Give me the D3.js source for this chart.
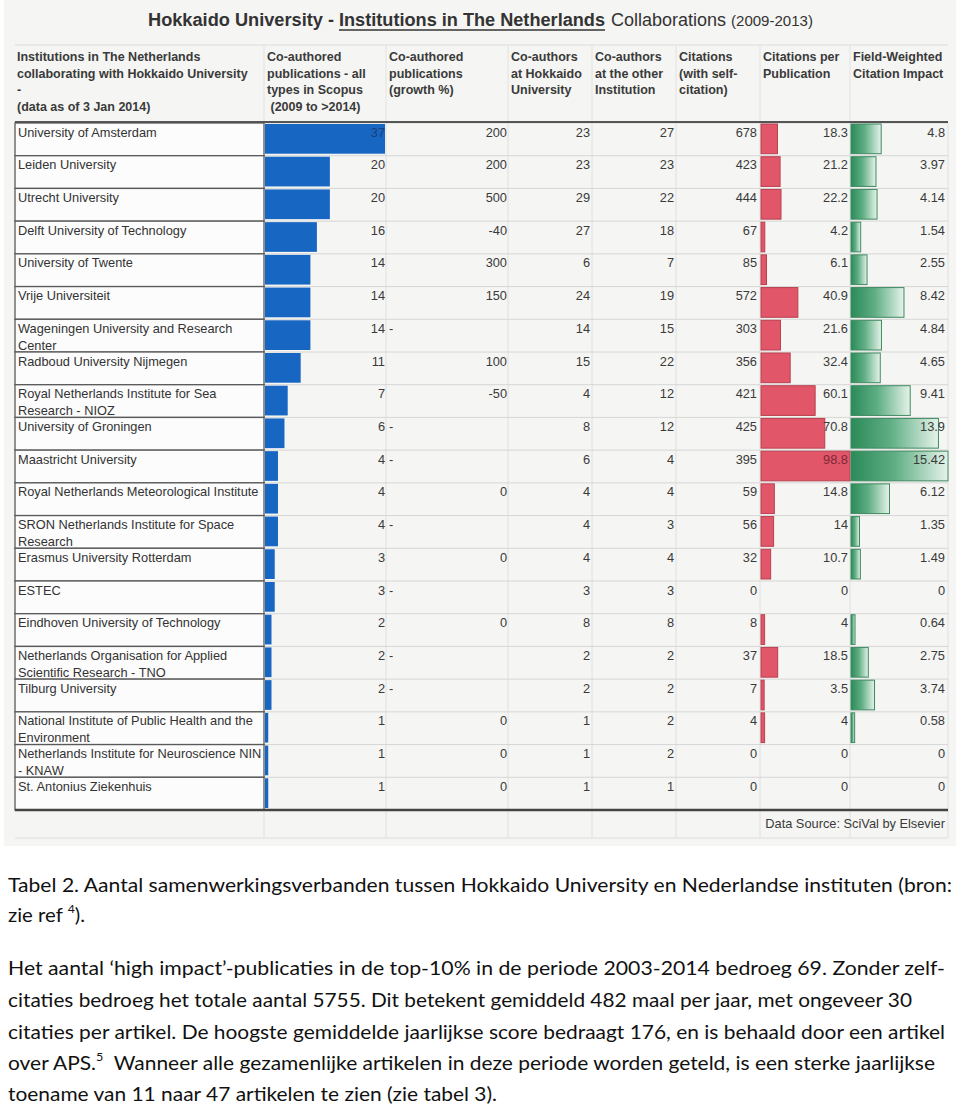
<!DOCTYPE html>
<html><head><meta charset="utf-8">
<script src="https://cdn.jsdelivr.net/npm/d3@7"></script>
<style>
html,body{margin:0;padding:0;background:#fff;}
svg{display:block;}
</style></head>
<body>
<svg id="chart" width="960" height="1108"></svg>
<script>
// ---------- DATA ----------
const institutions = [
  ["University of Amsterdam"],
  ["Leiden University"],
  ["Utrecht University"],
  ["Delft University of Technology"],
  ["University of Twente"],
  ["Vrije Universiteit"],
  ["Wageningen University and Research", "Center"],
  ["Radboud University Nijmegen"],
  ["Royal Netherlands Institute for Sea", "Research - NIOZ"],
  ["University of Groningen"],
  ["Maastricht University"],
  ["Royal Netherlands Meteorological Institute"],
  ["SRON Netherlands Institute for Space", "Research"],
  ["Erasmus University Rotterdam"],
  ["ESTEC"],
  ["Eindhoven University of Technology"],
  ["Netherlands Organisation for Applied", "Scientific Research - TNO"],
  ["Tilburg University"],
  ["National Institute of Public Health and the", "Environment"],
  ["Netherlands Institute for Neuroscience NIN", "- KNAW"],
  ["St. Antonius Ziekenhuis"]
];
const publications = [37,20,20,16,14,14,14,11,7,6,4,4,4,3,3,2,2,2,1,1,1];
const publicationDash = [false,false,false,false,false,false,true,false,false,true,true,false,true,false,true,false,true,true,false,false,false];
const growth = [200,200,500,-40,300,150,null,100,-50,null,null,0,null,0,null,0,null,null,0,0,0];
const coauthorsHokkaido = [23,23,29,27,6,24,14,15,4,8,6,4,4,4,3,8,2,2,1,1,1];
const coauthorsOther = [27,23,22,18,7,19,15,22,12,12,4,4,3,4,3,8,2,2,2,2,1];
const citations = [678,423,444,67,85,572,303,356,421,425,395,59,56,32,0,8,37,7,4,0,0];
const citationsPerPub = [18.3,21.2,22.2,4.2,6.1,40.9,21.6,32.4,60.1,70.8,98.8,14.8,14,10.7,0,4,18.5,3.5,4,0,0];
const fwci = [4.8,3.97,4.14,1.54,2.55,8.42,4.84,4.65,9.41,13.9,15.42,6.12,1.35,1.49,0,0.64,2.75,3.74,0.58,0,0];
const fwciLabels = ["4.8","3.97","4.14","1.54","2.55","8.42","4.84","4.65","9.41","13.9","15.42","6.12","1.35","1.49","0","0.64","2.75","3.74","0.58","0","0"];

const headers = [
  ["Institutions in The Netherlands","collaborating with Hokkaido University","-","(data as of 3 Jan 2014)"],
  ["Co-authored","publications - all","types in Scopus"," (2009 to >2014)"],
  ["Co-authored","publications","(growth %)"],
  ["Co-authors","at Hokkaido","University"],
  ["Co-authors","at the other","Institution"],
  ["Citations","(with self-","citation)"],
  ["Citations per","Publication"],
  ["Field-Weighted","Citation Impact"]
];
const sourceNote = "Data Source: SciVal by Elsevier";
const captionLines = [
  [{t:"Tabel 2. Aantal samenwerkingsverbanden tussen Hokkaido University en Nederlandse instituten (bron:"}],
  [{t:"zie ref "},{t:"4",sup:true},{t:")."}],
  [{t:"Het aantal \u2018high impact\u2019-publicaties in de top-10% in de periode 2003-2014 bedroeg 69. Zonder zelf-"}],
  [{t:"citaties bedroeg het totale aantal 5755. Dit betekent gemiddeld 482 maal per jaar, met ongeveer 30"}],
  [{t:"citaties per artikel. De hoogste gemiddelde jaarlijkse score bedraagt 176, en is behaald door een artikel"}],
  [{t:"over APS."},{t:"5",sup:true},{t:"  Wanneer alle gezamenlijke artikelen in deze periode worden geteld, is een sterke jaarlijkse"}],
  [{t:"toename van 11 naar 47 artikelen te zien (zie tabel 3)."}]
];

// ---------- LAYOUT ----------
const svg = d3.select("#chart");
const n = institutions.length;
const colEdges = [15, 264, 386, 508, 592, 676, 760, 850, 948];
const y = d3.scaleBand().domain(d3.range(n)).range([123, 810]);
const rh = y.bandwidth();
const xPub = d3.scaleLinear().domain([0, 37]).range([265, 385]);
const xCpp = d3.scaleLinear().domain([0, 98.8]).range([761, 850]);
const xFw = d3.scaleLinear().domain([0, 15.42]).range([851, 948]);
const font = "Arial, 'Liberation Sans', sans-serif";
const narrow = "'Liberation Sans Narrow', 'Arial Narrow', Arial, sans-serif";

// scan background
svg.append("rect").attr("x",4).attr("y",0).attr("width",952).attr("height",846).attr("fill","#f5f5f3");

// defs: green gradient
const defs = svg.append("defs");
const g = defs.append("linearGradient").attr("id","gr").attr("x1","0").attr("x2","1").attr("y1","0").attr("y2","0");
g.append("stop").attr("offset","0%").attr("stop-color","#2b8a58");
g.append("stop").attr("offset","45%").attr("stop-color","#5fae84");
g.append("stop").attr("offset","100%").attr("stop-color","#e6f3ea");

// title
const tparts = [
  {t:"Hokkaido University - ", x:148, w:"bold", s:17.5},
  {t:"Institutions in The Netherlands", x:339, w:"bold", s:17.5},
  {t:"Collaborations", x:611, w:"normal", s:17.5},
  {t:"(2009-2013)", x:731, w:"normal", s:15}
];
const tEnds = [334, 605, 726, 813];
tparts.forEach((p,i)=>{
  svg.append("text").attr("x",p.x).attr("y",26)
    .attr("font-family",narrow)
    .attr("font-weight",p.w).attr("font-size",p.s).attr("fill","#333")
    .attr("textLength",tEnds[i]-p.x).attr("lengthAdjust","spacingAndGlyphs").text(p.t);
});
svg.append("line").attr("x1",339).attr("x2",605).attr("y1",30).attr("y2",30).attr("stroke","#333").attr("stroke-width",1.6);

// header grid
svg.append("line").attr("x1",15).attr("x2",948).attr("y1",45).attr("y2",45).attr("stroke","#dcdcdc");
colEdges.slice(1,8).forEach(x=>{
  svg.append("line").attr("x1",x).attr("x2",x).attr("y1",45).attr("y2",122).attr("stroke","#e2e2e2");
});
headers.forEach((lines,ci)=>{
  const t = svg.append("text").attr("font-family",font).attr("font-size",12.5).attr("font-weight","bold").attr("fill","#3a3a3a");
  lines.forEach((l,li)=>{
    t.append("tspan").attr("x",colEdges[ci]+(ci===0?2:3)).attr("y",61+li*16.7).attr("xml:space","preserve").text(l);
  });
});

// body grid lines
colEdges.slice(2).forEach(x=>{
  svg.append("line").attr("x1",x).attr("x2",x).attr("y1",123).attr("y2",838).attr("stroke","#e0e0e0");
});
svg.append("line").attr("x1",264).attr("x2",264).attr("y1",810).attr("y2",838).attr("stroke","#e0e0e0");
d3.range(n+1).forEach(i=>{
  const yy = 123 + i*rh;
  svg.append("line").attr("x1",264).attr("x2",948).attr("y1",yy).attr("y2",yy).attr("stroke","#d6d6d6");
});
svg.append("line").attr("x1",15).attr("x2",948).attr("y1",838).attr("y2",838).attr("stroke","#dedede");

// institution cells
const rowsG = svg.append("g");
institutions.forEach((lines,i)=>{
  rowsG.append("rect").attr("x",15).attr("y",y(i)).attr("width",249).attr("height",rh)
    .attr("fill","#fcfcfc").attr("stroke","#5a5a5a").attr("stroke-width",1.3);
  const t = rowsG.append("text").attr("font-family",font).attr("font-size",12.8).attr("fill","#333");
  lines.forEach((l,li)=>{
    t.append("tspan").attr("x",18).attr("y",y(i)+13.5+li*17).text(l);
  });
});

// blue bars
svg.append("g").selectAll("rect").data(publications).join("rect")
  .attr("x",xPub(0)).attr("y",(d,i)=>y(i)+1).attr("width",d=>xPub(d)-xPub(0)).attr("height",rh-3)
  .attr("fill","#1766c2");
// red bars
svg.append("g").selectAll("rect").data(citationsPerPub).join("rect")
  .attr("display",d=>d>0?null:"none")
  .attr("x",xCpp(0)).attr("y",(d,i)=>y(i)+1)
  .attr("width",d=>xCpp(d)-xCpp(0)).attr("height",rh-3)
  .attr("fill","#e2566a").attr("stroke","#b8404f").attr("stroke-width",1);
// green bars
svg.append("g").selectAll("rect").data(fwci).join("rect")
  .attr("display",d=>d>0?null:"none")
  .attr("x",xFw(0)).attr("y",(d,i)=>y(i)+1)
  .attr("width",d=>xFw(d)-xFw(0)).attr("height",rh-3)
  .attr("fill","url(#gr)").attr("stroke","#3f8a60").attr("stroke-width",1);

// numbers
const numG = svg.append("g").attr("font-family",font).attr("font-size",12.8).attr("fill","#3a3a3a").attr("text-anchor","end");
function col(values, xr, fmt, barEnd){
  values.forEach((v,i)=>{
    if(v===null) return;
    const over = barEnd && barEnd(i) > xr-22;
    numG.append("text").attr("x",xr).attr("y",y(i)+13.5)
      .attr("fill", over ? barEnd.dark : null)
      .text(fmt ? fmt(v,i) : v);
  });
}
const pubEnd = i=>xPub(publications[i]); pubEnd.dark="#1b3f7a";
const cppEnd = i=>xCpp(citationsPerPub[i]); cppEnd.dark="#7a2a35";
col(publications, 385, null, pubEnd);
publicationDash.forEach((d,i)=>{ if(d) numG.append("text").attr("text-anchor","start").attr("x",389).attr("y",y(i)+13.5).text("-"); });
col(growth, 507);
col(coauthorsHokkaido, 590);
col(coauthorsOther, 674);
col(citations, 757);
col(citationsPerPub, 848, null, cppEnd);
col(fwci, 945, (v,i)=>fwciLabels[i]);

// bottom rule and source
svg.append("line").attr("x1",15).attr("x2",948).attr("y1",810).attr("y2",810).attr("stroke","#444").attr("stroke-width",2.5);
svg.append("line").attr("x1",15).attr("x2",948).attr("y1",122).attr("y2",122).attr("stroke","#555").attr("stroke-width",2);
svg.append("text").attr("x",945).attr("y",828).attr("text-anchor","end").attr("font-family",font).attr("font-size",12.8).attr("fill","#3a3a3a").text(sourceNote);

// caption
const capBase = [892, 922, 975, 1007, 1039, 1070, 1101];
const capWidths = [944, 77, 937, 904, 937, 927, 489];
captionLines.forEach((parts,i)=>{
  const t = svg.append("text").attr("x",8).attr("y",capBase[i]).attr("font-family","Lato, 'Open Sans', sans-serif").attr("font-size",20).attr("fill","#111").attr("xml:space","preserve");
  parts.forEach((p,k)=>{
    const ts = t.append("tspan").text(p.t);
    if(p.sup) ts.attr("font-size",12).attr("dy",-9);
    else if(k>0 && parts[k-1].sup) ts.attr("dy",9);
  });
  if(capWidths[i]) t.attr("textLength",capWidths[i]).attr("lengthAdjust","spacingAndGlyphs");
});
</script>
</body></html>
